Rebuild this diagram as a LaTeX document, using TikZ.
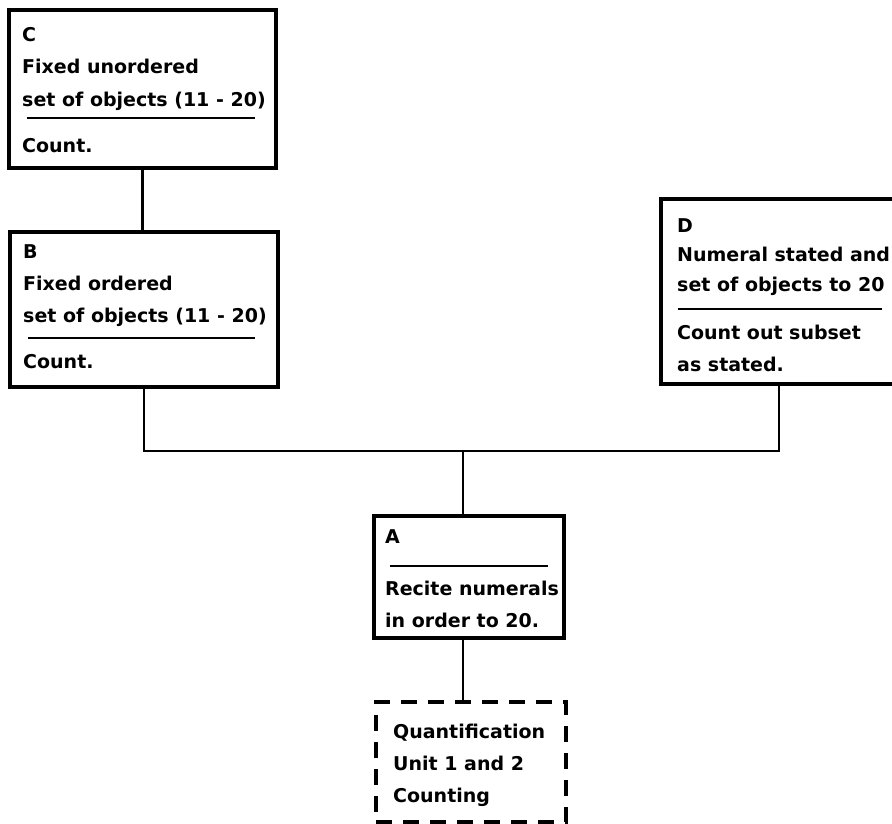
\documentclass[tikz,border=0pt]{standalone}
\usepackage{fontspec}
\setmainfont{DejaVu Sans}
\begin{document}
\begin{tikzpicture}[x=1pt,y=-1pt,
  box/.style={draw,line width=3.2pt,inner sep=0pt,outer sep=0pt},
  dbox/.style={box,dash pattern=on 16pt off 11pt},
  txt/.style={anchor=base west,inner sep=0pt,font=\fontsize{19}{23}\selectfont\bfseries},
  link/.style={line width=2.4pt},
  rulel/.style={line width=2.2pt}]
\useasboundingbox (0,0) rectangle (892,823);

% frames
\node[box,minimum width=267pt,minimum height=158pt] (C) at (142.5,89) {};
\node[box,minimum width=268pt,minimum height=155pt] (B) at (144,309.5) {};
\node[box,minimum width=236pt,minimum height=185pt] (D) at (779,291.5) {};
\node[box,minimum width=190pt,minimum height=122pt] (A) at (469,577) {};
\node[dbox,minimum width=190pt,minimum height=120pt] (Q) at (471,762) {};

% box C
\node[txt] (c0) at (22,41) {C};
\node[txt] (c1) at (22,73) {Fixed unordered};
\node[txt] (c2) at (22,106) {set of objects (11 - 20)};
\draw[rulel] (27,118) -- (255,118);
\node[txt] (c3) at (22,152) {Count.};

% box B
\node[txt] (b0) at (23,258) {B};
\node[txt] (b1) at (23,290) {Fixed ordered};
\node[txt] (b2) at (23,322) {set of objects (11 - 20)};
\draw[rulel] (28,338) -- (255,338);
\node[txt] (b3) at (23,368) {Count.};

% box D
\node[txt] (d0) at (677,232) {D};
\node[txt] (d1) at (677,261) {Numeral stated and};
\node[txt] (d2) at (677,291) {set of objects to 20};
\draw[rulel] (678,309) -- (882,309);
\node[txt] (d3) at (677,339) {Count out subset};
\node[txt] (d4) at (677,371) {as stated.};

% box A
\node[txt] (a0) at (385,543) {A};
\draw[rulel] (390,566) -- (548,566);
\node[txt] (a1) at (385,595) {Recite numerals};
\node[txt] (a2) at (385,627) {in order to 20.};

% dashed box
\node[txt] (q0) at (393,738) {Quantification};
\node[txt] (q1) at (393,770) {Unit 1 and 2};
\node[txt] (q2) at (393,802) {Counting};

% connectors
\coordinate (j) at (463,451);
\draw[link] (C.south) -- (C.south |- B.north);
\draw[link] (B.south) |- (j) -| (D.south);
\draw[link] (j) -- (j |- A.north);
\draw[link] (A.south -| j) -- (j |- Q.north);
\end{tikzpicture}
\end{document}
